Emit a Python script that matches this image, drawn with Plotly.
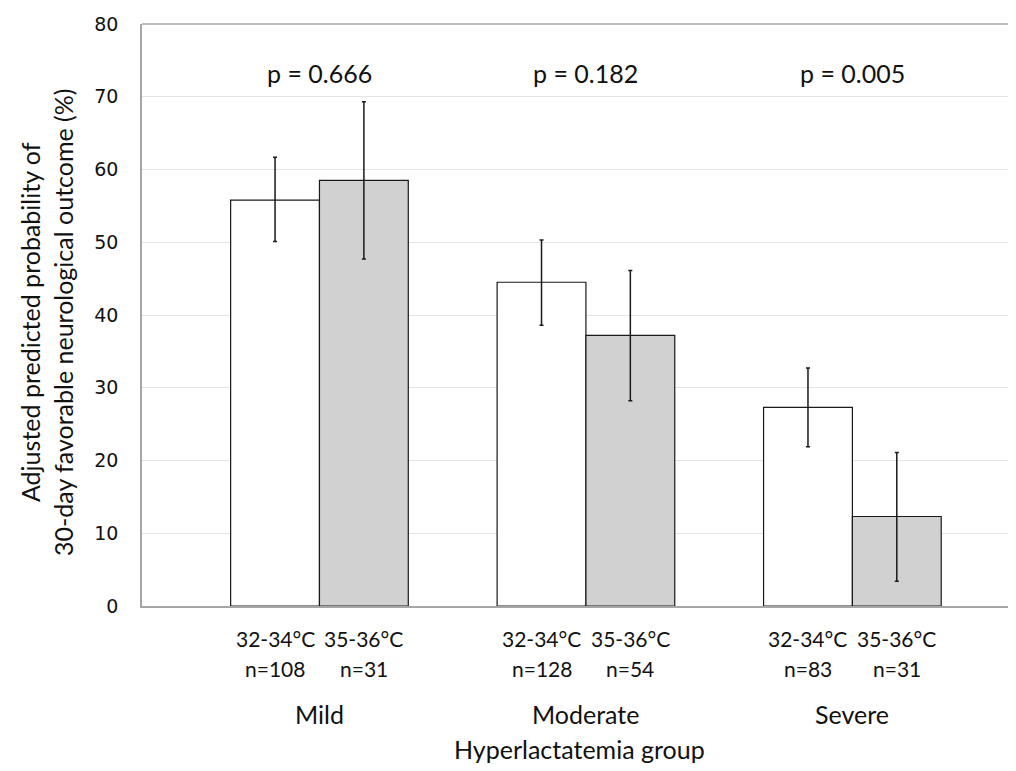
import plotly.graph_objects as go

groups = ["Mild", "Moderate", "Severe"]
temps = ["32-34°C", "35-36°C"]
n_cool = ["n=108", "n=128", "n=83"]
n_warm = ["n=31", "n=54", "n=31"]
p_values = ["p = 0.666", "p = 0.182", "p = 0.005"]

cool_val = [55.8, 44.5, 27.3]
cool_hi = [61.7, 50.3, 32.7]
cool_lo = [50.1, 38.6, 21.9]

warm_val = [58.5, 37.2, 12.3]
warm_hi = [69.3, 46.1, 21.1]
warm_lo = [47.7, 28.2, 3.4]

y_ticks = [0, 10, 20, 30, 40, 50, 60, 70, 80]

TXT = "Lato, 'Open Sans', sans-serif"
COL = "#111"

def err(v, hi, lo):
    return dict(type="data", symmetric=False,
                array=[h - x for h, x in zip(hi, v)],
                arrayminus=[x - l for l, x in zip(lo, v)],
                color="#1a1a1a", thickness=1.5, width=2)

fig = go.Figure()
fig.add_trace(go.Bar(x=groups, y=cool_val, name=temps[0],
                     marker=dict(color="white", line=dict(color="#1a1a1a", width=1.2)),
                     error_y=err(cool_val, cool_hi, cool_lo)))
fig.add_trace(go.Bar(x=groups, y=warm_val, name=temps[1],
                     marker=dict(color="#d0d1d0", line=dict(color="#1a1a1a", width=1.2)),
                     error_y=err(warm_val, warm_hi, warm_lo)))

def lab(x, y, text, size):
    return dict(x=x, y=y, xref="x", yref="paper", text=text, showarrow=False,
                yanchor="middle", font=dict(family=TXT, size=size, color=COL))

ann = []
for i, g in enumerate(groups):
    ann.append(lab(i - 1/6, -0.0567, temps[0], 21))
    ann.append(lab(i + 1/6, -0.0567, temps[1], 21))
    ann.append(lab(i - 1/6, -0.108, n_cool[i], 21))
    ann.append(lab(i + 1/6, -0.108, n_warm[i], 21))
    ann.append(lab(i, -0.1856, g, 25))
    ann.append(dict(x=i, y=73.3, xref="x", yref="y", text=p_values[i], showarrow=False,
                    font=dict(family=TXT, size=25, color=COL)))

ann.append(dict(x=0.5, y=-0.2457, xref="paper", yref="paper", text="Hyperlactatemia group",
                showarrow=False, yanchor="middle", font=dict(family=TXT, size=25, color=COL)))
ann.append(dict(x=-0.1087, y=0.488, xref="paper", yref="paper",
                xanchor="center", yanchor="middle",
                text="Adjusted predicted probability of<br>30-day favorable neurological outcome (%)",
                textangle=-90, showarrow=False,
                font=dict(family=TXT, size=25, color=COL)))

fig.update_layout(
    width=1008, height=763,
    margin=dict(l=134, r=0, t=16, b=165),
    paper_bgcolor="white", plot_bgcolor="white",
    barmode="group", bargap=1/3, bargroupgap=0,
    showlegend=False,
    annotations=ann,
    shapes=[
        dict(type="line", xref="paper", yref="paper", x0=0, x1=1.05, y0=1, y1=1,
             line=dict(color="#a6a6a6", width=1.5)),
    ],
)
fig.update_xaxes(range=[-0.666, 2.614], showticklabels=False, ticks="",
                 showline=True, linecolor="#a6a6a6", linewidth=1.5, showgrid=False)
fig.update_yaxes(range=[0, 80], tickvals=y_ticks, showline=True, linecolor="#a6a6a6",
                 linewidth=1.5, showgrid=True, gridcolor="#e4e4e4", gridwidth=1,
                 zeroline=False, ticks="", ticklabelstandoff=18,
                 tickfont=dict(family="DejaVu Sans", size=19, color=COL))

fig.write_html("out.html")
